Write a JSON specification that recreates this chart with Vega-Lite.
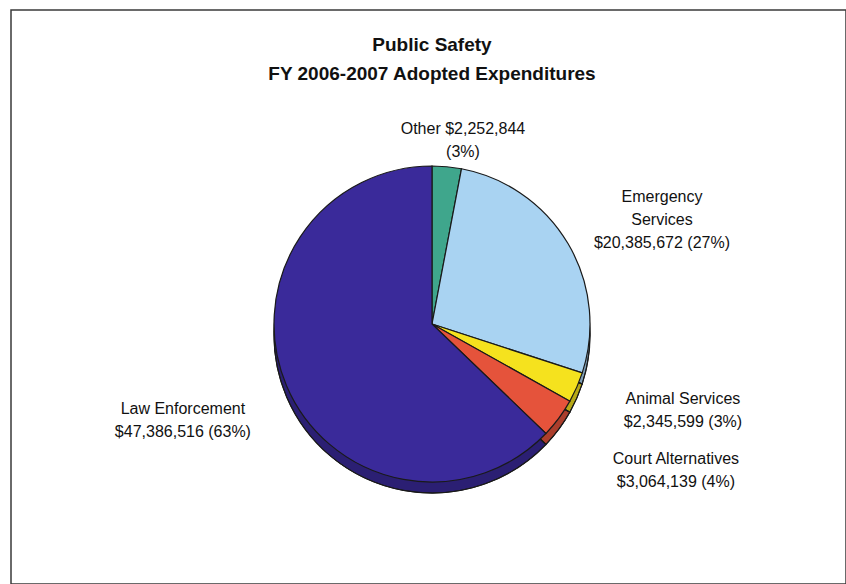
{
  "$schema": "https://vega.github.io/schema/vega-lite/v6.json",
  "width": 835,
  "height": 574,
  "autosize": "none",
  "padding": {"left": 11, "top": 10, "right": 0, "bottom": 0},
  "background": "white",
  "view": {"stroke": "#3a3a3a", "strokeWidth": 1.5},
  "config": {
    "view": {"stroke": "#3a3a3a", "strokeWidth": 1.5},
    "font": "Liberation Sans"
  },
  "title": {
    "text": ["Public Safety", "FY 2006-2007 Adopted Expenditures"],
    "font": "Liberation Sans",
    "fontSize": 19,
    "fontWeight": "bold",
    "lineHeight": 29,
    "color": "#111111",
    "anchor": "middle",
    "frame": "group",
    "baseline": "top",
    "offset": -74,
    "dx": 3.5
  },
  "data": {
    "values": [
      {"category": "Other", "amount": 2252844, "label": "Other  $2,252,844\n(3%)"},
      {"category": "Emergency Services", "amount": 20385672, "label": "Emergency\nServices\n$20,385,672 (27%)"},
      {"category": "Animal Services", "amount": 2345599, "label": "Animal Services\n$2,345,599 (3%)"},
      {"category": "Court Alternatives", "amount": 3064139, "label": "Court Alternatives\n$3,064,139 (4%)"},
      {"category": "Law Enforcement", "amount": 47386516, "label": "Law Enforcement\n$47,386,516 (63%)"}
    ]
  },
  "transform": [
    {"stack": "amount", "groupby": [], "as": ["v0", "v1"]},
    {"calculate": "(datum.v0 + datum.v1) / 2", "as": "mid"}
  ],
  "resolve": {"scale": {"theta": "shared"}},
  "layer": [
    {
      "mark": {"type": "arc", "radius": 158, "xOffset": 3.5, "yOffset": 38, "stroke": "#1a1a1a", "strokeWidth": 1},
      "encoding": {
        "theta": {"field": "v1", "type": "quantitative", "stack": null, "scale": {"zero": true}},
        "theta2": {"field": "v0"},
        "color": {
          "field": "category",
          "type": "nominal",
          "scale": {
            "domain": ["Other", "Emergency Services", "Animal Services", "Court Alternatives", "Law Enforcement"],
            "range": ["#3fa68c", "#a9d3f2", "#f5e21e", "#e5533b", "#3a2a9a"]
          },
          "legend": null
        }
      }
    },
    {
      "mark": {"type": "arc", "radius": 158, "xOffset": 3.5, "yOffset": 38, "fill": "#000000", "fillOpacity": 0.25, "stroke": "#1a1a1a", "strokeWidth": 1.2},
      "encoding": {
        "theta": {"field": "v1", "type": "quantitative", "stack": null},
        "theta2": {"field": "v0"}
      }
    },
    {
      "mark": {"type": "arc", "radius": 158, "xOffset": 3.5, "yOffset": 27, "stroke": "#1a1a1a", "strokeWidth": 1.2},
      "encoding": {
        "theta": {"field": "v1", "type": "quantitative", "stack": null},
        "theta2": {"field": "v0"},
        "color": {"field": "category", "type": "nominal", "legend": null}
      }
    },
    {
      "transform": [{"filter": "datum.category === 'Other'"}],
      "mark": {"type": "text", "radius": 180, "dx": 17.6, "dy": 11.7, "fontSize": 16, "lineHeight": 23, "lineBreak": "\n", "align": "center", "baseline": "middle", "color": "#111111"},
      "encoding": {"theta": {"field": "mid", "type": "quantitative", "stack": null}, "text": {"field": "label"}}
    },
    {
      "transform": [{"filter": "datum.category === 'Emergency Services'"}],
      "mark": {"type": "text", "radius": 250, "dx": 18.3, "dy": 26.8, "fontSize": 16, "lineHeight": 23, "lineBreak": "\n", "align": "center", "baseline": "middle", "color": "#111111"},
      "encoding": {"theta": {"field": "mid", "type": "quantitative", "stack": null}, "text": {"field": "label"}}
    },
    {
      "transform": [{"filter": "datum.category === 'Animal Services'"}],
      "mark": {"type": "text", "radius": 270, "dx": 7.1, "dy": -6.6, "fontSize": 16, "lineHeight": 23, "lineBreak": "\n", "align": "center", "baseline": "middle", "color": "#111111"},
      "encoding": {"theta": {"field": "mid", "type": "quantitative", "stack": null}, "text": {"field": "label"}}
    },
    {
      "transform": [{"filter": "datum.category === 'Court Alternatives'"}],
      "mark": {"type": "text", "radius": 290, "dx": 14.4, "dy": -11, "fontSize": 16, "lineHeight": 23, "lineBreak": "\n", "align": "center", "baseline": "middle", "color": "#111111"},
      "encoding": {"theta": {"field": "mid", "type": "quantitative", "stack": null}, "text": {"field": "label"}}
    },
    {
      "transform": [{"filter": "datum.category === 'Law Enforcement'"}],
      "mark": {"type": "text", "radius": 270, "dx": 2.8, "dy": 6.6, "fontSize": 16, "lineHeight": 23, "lineBreak": "\n", "align": "center", "baseline": "middle", "color": "#111111"},
      "encoding": {"theta": {"field": "mid", "type": "quantitative", "stack": null}, "text": {"field": "label"}}
    }
  ]
}
